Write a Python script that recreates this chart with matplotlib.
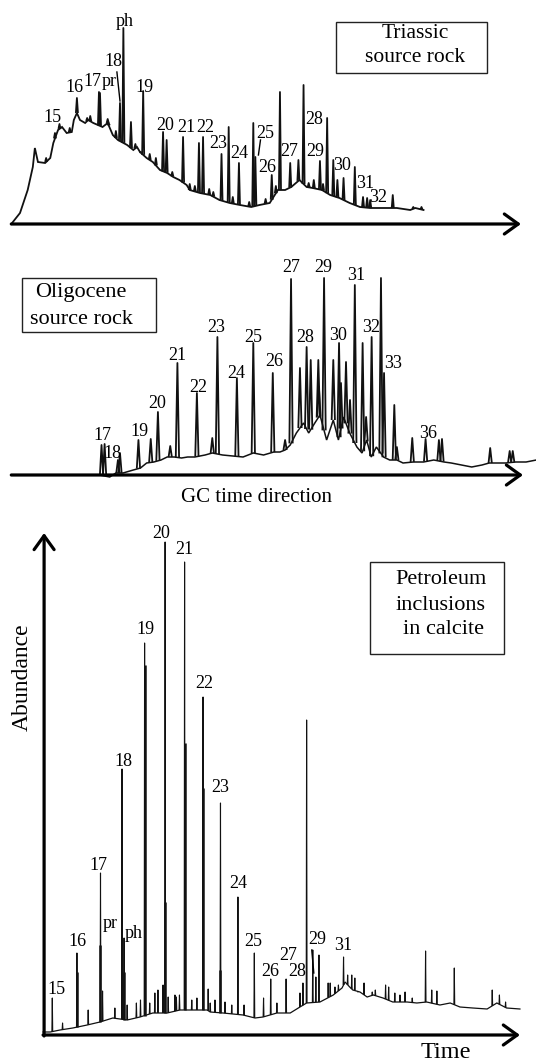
import numpy as np
import matplotlib
matplotlib.use('Agg')
import matplotlib.pyplot as plt
from matplotlib.patches import Rectangle
from matplotlib.collections import LineCollection

plt.rcParams['font.family'] = ['Liberation Serif', 'DejaVu Serif']

# ---- Triassic source rock (retention position, signal height) ----
tri_base_x = [11, 19.5, 27, 32, 34, 37, 44, 49, 52, 56.6, 60.5, 65, 70, 72, 75, 78, 83, 86, 91, 100,
              105, 110, 115, 124, 130, 133.6, 136.5, 143, 149, 156, 163, 169, 175, 182,
              185, 195, 205, 214, 224, 234, 245, 253, 263, 271, 278, 284, 292, 299, 305, 314, 322,
              331, 341, 351, 361, 374, 387, 400, 405, 413]
tri_base_y = [0, 11, 34, 57, 76, 62, 61, 66, 81, 94, 97, 91, 92, 104, 111, 104, 101, 104, 101, 97,
              101, 89, 84, 79, 74, 77, 72, 66, 62, 54, 51, 47, 44, 39,
              34, 31, 29, 24, 21, 19, 17, 19, 21, 34, 34, 37, 44, 37, 36, 34, 29,
              26, 21, 17, 16, 16, 16, 14, 16, 14]
tri_peak_x = [45, 53.6, 58, 68, 75, 85, 88, 96.5, 97.5, 105, 106, 113, 117, 120.3, 127.7, 132, 137,
              139.6, 146, 152, 159, 162.5, 168, 178.5, 185, 190, 194, 198, 204, 208, 216, 223, 227,
              233, 243, 247, 249, 259, 265, 269, 273, 283, 291, 296, 301, 306, 312, 315, 319, 325,
              329, 335, 346, 354, 358, 361, 383, 403, 411]
tri_peak_y = [66, 91, 100, 96, 126, 106, 108, 132, 131, 105, 101, 93, 121, 196, 102, 80, 72,
              133, 70, 66, 92, 84, 52, 87, 40, 38, 81, 87, 35, 32, 70, 97, 27,
              61, 22, 101, 67, 25, 49, 38, 132, 61, 64, 139, 41, 44, 63, 40, 106, 64,
              44, 46, 57, 27, 26, 24, 29, 17, 17]
tri_labels = ['ph', '18', '16', '17', 'pr', '19', '15', '20', '21', '22', '23', '24', '25', '26',
              '27', '28', '29', '30', '31', '32']
tri_label_x = [122, 111, 73, 90, 106, 141, 51, 161, 182, 200, 213, 233, 259, 261, 282, 306, 307, 334, 356, 369]
tri_label_y = [202, 162, 137, 142, 142, 137, 106, 99, 96, 96, 81, 71, 91, 57, 72, 105, 72, 59, 41, 26]

# ---- Oligocene source rock ----
oli_base_x = [60, 97, 107, 113, 120, 130, 137, 143, 150, 157, 163, 170, 177, 183, 190, 200, 207, 217,
              227, 237, 247, 257, 267, 273, 278, 283, 289, 296, 301, 307, 312, 318.5, 325, 330, 335,
              341, 348, 353, 357.5, 362, 367, 374, 380, 387, 393, 403, 413, 423, 433, 440, 450, 460,
              470, 477, 483, 493, 503, 513, 523]
oli_base_y = [0, 0, -2, 2, 2, 5, 7, 12, 13, 15, 18, 18, 17, 18, 18, 20, 22, 20,
              19, 18, 22, 20, 23, 23, 25, 30, 42, 52, 42, 52, 60, 35, 55, 35, 58,
              42, 28, 22, 35, 18, 28, 18, 15, 15, 12, 13, 13, 15, 13, 12, 10, 8,
              10, 12, 12, 12, 13, 13, 15]
oli_peak_x = [99, 102, 115, 117, 135, 147, 154, 166, 173, 192, 207, 212, 231, 247, 266, 278, 283.8, 292.5,
              299, 303, 310.4, 311, 316, 325, 330.6, 332.5, 337.4, 341.3, 346, 353.6, 357, 362.4, 371.5,
              374.5, 384.5, 387, 402, 415, 428, 431, 478, 497, 500]
oli_peak_y = [30, 31, 15, 22, 35, 36, 63, 29, 112, 82, 37, 138, 97, 132, 102, 35, 196, 107,
              128, 115, 115, 88, 197, 115, 132, 92, 113, 75, 190, 132, 58, 138, 197,
              102, 70, 28, 37, 36, 35, 36, 27, 24, 24]
oli_labels = ['17', '18', '19', '20', '21', '22', '23', '24', '25', '26', '27', '28', '29', '30',
              '31', '32', '33', '36']
oli_label_x = [100, 110, 136, 153, 173, 193, 211, 230, 247, 267, 284, 298, 315, 330, 347, 362, 383, 417]
oli_label_y = [40, 22, 44, 72, 120, 88, 147, 102, 138, 113, 207, 138, 208, 140, 200, 148, 112, 42]

# ---- Petroleum inclusions in calcite ----
inc_base_x = [42, 49, 58.5, 71, 85, 97.5, 110, 124, 136.5, 149, 163, 175.5, 188, 202, 205, 217.5, 237,
              248.7, 256.5, 270, 283, 292.5, 299, 312, 325, 333.5, 336.5, 341, 344, 351, 358, 364,
              373.5, 383, 397, 406.5, 416, 429, 439, 448.5, 461, 475, 484.5, 494, 507]
inc_base_y = [3, 3, 5, 7, 10, 13, 17, 15, 18, 22, 22, 25, 25, 25, 23, 22, 20,
              17, 18, 22, 22, 28, 32, 33, 40, 47, 53, 48, 45, 43, 38, 40,
              37, 33, 33, 32, 33, 30, 32, 28, 27, 26, 32, 27, 26]
inc_peak_x = [51, 61, 75, 86, 98, 100, 112, 119, 121, 124, 133, 137, 141, 146, 151, 154, 161, 159, 164,
              170.6, 172, 175, 180, 187, 192, 198, 203, 205, 209.6, 215, 219.4, 226, 232, 238, 248, 257,
              264, 270, 279, 292.5, 295.4, 299, 305, 311, 308, 320, 322, 326.6, 330, 335, 339, 343,
              346, 349, 355, 363, 366, 376, 379, 385, 390, 395, 402, 415, 421, 426, 443, 480, 487, 493]
inc_peak_y = [37, 12, 82, 25, 162, 44, 27, 266, 97, 30, 32, 35, 392, 32, 42, 45, 493, 50, 38,
              40, 38, 40, 473, 35, 37, 338, 46, 32, 35, 232, 33, 30, 138, 30, 82, 37,
              56, 32, 56, 42, 52, 315, 85, 80, 58, 52, 52, 48, 50, 78, 60, 60,
              57, 43, 52, 43, 45, 50, 48, 42, 40, 43, 37, 84, 45, 44, 67, 45, 40, 33]
# strong lower parts of the main n-alkane peaks
inc_core_x = [75, 98, 121, 141, 161, 180, 198, 215]
inc_core_y = [63, 90, 63, 370, 133, 292, 247, 65]
inc_labels = ['20', '21', '19', '22', '18', '23', '17', '24', 'pr', 'ph', '16', '25', '29', '31',
              '27', '26', '28', '15']
inc_label_x = [157, 180, 142, 199, 120, 215, 96, 232, 107, 130, 76, 247, 309, 335, 281, 264, 290, 55]
inc_label_y = [502, 486, 405, 352, 274, 247, 170, 151, 111, 102, 93, 94, 96, 89, 80, 64, 64, 46]

W, H = 536, 1064
XS = 1.0255  # pixels per retention unit
fig = plt.figure(figsize=(W / 100, H / 100), dpi=100)


def panel(top, bottom, axis_y):
    ax = fig.add_axes([0, 1 - bottom / H, 1, (bottom - top) / H])
    ax.set_xlim(0, W / XS)
    ax.set_ylim(axis_y - bottom, axis_y - top)
    ax.axis('off')
    return ax


def chromatogram(ax, bx, by, px, py, half, lw_base, lw_peak, color='#111111'):
    ax.plot(bx, by, color=color, lw=lw_base, solid_joinstyle='miter')
    b = np.interp(px, bx, by)
    segs = [[(x - half, y0), (x, y1), (x + half, y0)] for x, y0, y1 in zip(px, b, py)]
    ax.add_collection(LineCollection(segs, colors=color, linewidths=lw_peak))


def arrow(ax, x0, y0, x1, y1):
    ax.annotate('', xy=(x1, y1), xytext=(x0, y0),
                arrowprops=dict(arrowstyle='->,head_length=0.5,head_width=0.36',
                                lw=2.3, color='black', mutation_scale=20,
                                shrinkA=0, shrinkB=0))


# panel 1
ax1 = panel(0, 240, 224)
chromatogram(ax1, tri_base_x, tri_base_y, tri_peak_x, tri_peak_y, 1.0, 1.3, 1.3)
arrow(ax1, 11, 0, 508, 0)
for t, x, y in zip(tri_labels, tri_label_x, tri_label_y):
    ax1.text(x, y, t, fontsize=13, ha='center', va='center')
ax1.plot([114, 117], [152, 123], color='black', lw=1.0)
ax1.plot([254, 252], [84, 69], color='black', lw=1.0)
ax1.add_patch(Rectangle((328, 151), 147, 51, fill=False, lw=1.0, ec='#222222'))
ax1.text(405, 191, 'Triassic', fontsize=15.5, ha='center', va='center')
ax1.text(405, 166, 'source rock', fontsize=15.5, ha='center', va='center')

# panel 2
ax2 = panel(240, 500, 475)
chromatogram(ax2, oli_base_x, oli_base_y, oli_peak_x, oli_peak_y, 1.6, 1.1, 1.3)
arrow(ax2, 11, 0, 510, 0)
for t, x, y in zip(oli_labels, oli_label_x, oli_label_y):
    ax2.text(x, y, t, fontsize=13, ha='center', va='center')
ax2.add_patch(Rectangle((21, 143), 131, 54, fill=False, lw=1.0, ec='#222222'))
ax2.text(79, 182, 'Oligocene', fontsize=16, ha='center', va='center')
ax2.text(79, 155, 'source rock', fontsize=16, ha='center', va='center')
ax2.text(250, -22, 'GC time direction', fontsize=15, ha='center', va='center')

# panel 3
ax3 = panel(500, 1064, 1035)
chromatogram(ax3, inc_base_x, inc_base_y, inc_peak_x, inc_peak_y, 0.4, 0.9, 0.8)
ax3.vlines(inc_core_x, np.interp(inc_core_x, inc_base_x, inc_base_y), inc_core_y,
           color='#111111', lw=1.8)
arrow(ax3, 42, 0, 507, 0)
arrow(ax3, 43, -1, 43, 502)
for t, x, y in zip(inc_labels, inc_label_x, inc_label_y):
    ax3.text(x, y, t, fontsize=13, ha='center', va='center')
ax3.plot([304, 306], [85, 62], color='black', lw=1.0)
ax3.add_patch(Rectangle((361, 381), 130, 92, fill=False, lw=1.0, ec='#222222'))
ax3.text(430, 455, 'Petroleum', fontsize=16, ha='center', va='center')
ax3.text(430, 430, 'inclusions', fontsize=16, ha='center', va='center')
ax3.text(432, 405, 'in calcite', fontsize=16, ha='center', va='center')
ax3.text(22, 358, 'Abundance', fontsize=17, ha='center', va='center', rotation=90)
ax3.text(435, -18, 'Time', fontsize=17.5, ha='center', va='center')

fig.savefig('out.png', dpi=100)
